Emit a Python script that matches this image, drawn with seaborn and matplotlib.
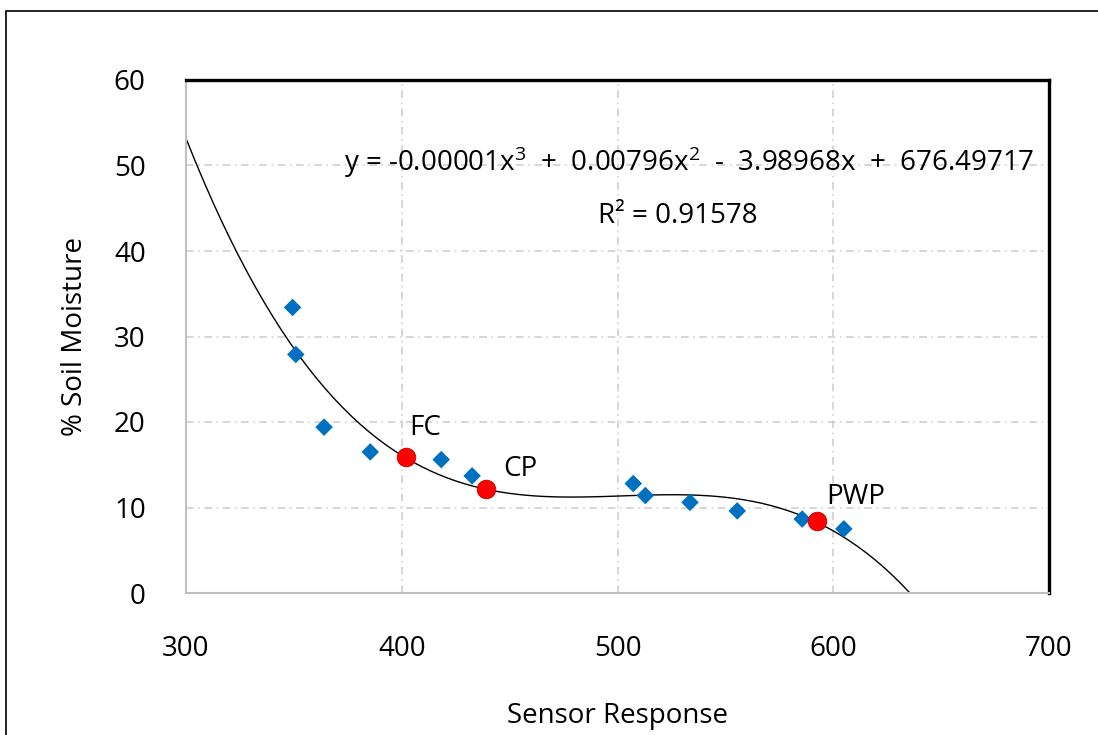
"""Curva de calibración del sensor de humedad de suelo."""
import matplotlib
matplotlib.use("Agg")
import matplotlib.pyplot as plt
from matplotlib.patches import Rectangle
import numpy as np
import pandas as pd
import seaborn as sns

# datos medidos (rombos azules)
sensor = [349.4, 350.9, 364.0, 385.4, 418.3, 432.6, 507.3, 512.9,
          533.6, 555.5, 585.6, 604.9]
moisture = [33.4, 27.9, 19.4, 16.5, 15.6, 13.7, 12.8, 11.4,
            10.6, 9.6, 8.65, 7.5]

# puntos característicos (círculos rojos)
key_names = ["FC", "CP", "PWP"]
key_sensor = [401.8, 439.1, 592.3]
key_moisture = [15.9, 12.2, 8.4]

x_ticks = [300, 400, 500, 600, 700]
y_ticks = [0, 10, 20, 30, 40, 50, 60]

equation = r"y = -0.00001x$^3$  +  0.00796x$^2$  -  3.98968x  +  676.49717"
r2_text = "R² = 0.91578"

df = pd.DataFrame({"sensor": sensor, "moisture": moisture})
keys = pd.DataFrame({"name": key_names, "sensor": key_sensor,
                     "moisture": key_moisture})

sns.set_style("white")
plt.rcParams["font.family"] = ["Open Sans", "DejaVu Sans"]
plt.rcParams["mathtext.fontset"] = "custom"
plt.rcParams["mathtext.rm"] = "Open Sans"
plt.rcParams["mathtext.it"] = "Open Sans"
plt.rcParams["text.color"] = "black"
plt.rcParams["axes.labelcolor"] = "black"
plt.rcParams["xtick.color"] = "black"
plt.rcParams["ytick.color"] = "black"

FS = 20

fig = plt.figure(figsize=(10.98, 7.35), dpi=100)
ax = fig.add_axes([186 / 1098, 1 - 593 / 735, 863 / 1098, 513 / 735])
ax.set_xlim(300, 700)
ax.set_ylim(0, 60)

# rejilla punto-raya
ax.set_xticks(x_ticks)
ax.set_yticks(y_ticks)
ax.grid(True, color="#cccccc", linewidth=1.1, dashes=(5, 3, 1, 3))
ax.set_axisbelow(True)

# línea de tendencia polinómica de orden 3
sns.regplot(data=df, x="sensor", y="moisture", order=3, ci=None,
            scatter=False, truncate=False, ax=ax,
            line_kws={"color": "black", "linewidth": 1.0})

sns.scatterplot(data=df, x="sensor", y="moisture", marker="D", s=80,
                color="#0070c0", edgecolor="none", ax=ax, zorder=3)
sns.scatterplot(data=keys, x="sensor", y="moisture", marker="o", s=180,
                color="#ff0000", edgecolor="#c00000", linewidth=0.6,
                ax=ax, zorder=4)

offsets = {"FC": (1.6, 3.4), "CP": (8.0, 2.3), "PWP": (4.3, 2.8)}
for name, xs, ys in zip(key_names, key_sensor, key_moisture):
    dx, dy = offsets[name]
    ax.text(xs + dx, ys + dy, name, fontsize=FS, va="center", ha="left")

ax.text(373.2, 50.4, equation, fontsize=FS, va="center", ha="left")
ax.text(491.0, 44.1, r2_text, fontsize=FS, va="center", ha="left")

ax.set_xlabel("Sensor Response", fontsize=FS, labelpad=28)
ax.set_ylabel("% Soil Moisture", fontsize=FS, labelpad=18)
ax.tick_params(axis="both", length=0, labelsize=FS)
ax.tick_params(axis="x", pad=30)
ax.tick_params(axis="y", pad=29)

for side in ("left", "bottom"):
    ax.spines[side].set_color("#bfbfbf")
    ax.spines[side].set_linewidth(1.5)
for side in ("top", "right"):
    ax.spines[side].set_color("black")
    ax.spines[side].set_linewidth(2.4)

# marco exterior de la figura
fig.patches.append(Rectangle((6 / 1098, -0.1), 1.2, 1.1 - 11 / 735,
                             transform=fig.transFigure, fill=False,
                             edgecolor="black", linewidth=1.2))

fig.savefig("out.png", dpi=100)
plt.close(fig)
